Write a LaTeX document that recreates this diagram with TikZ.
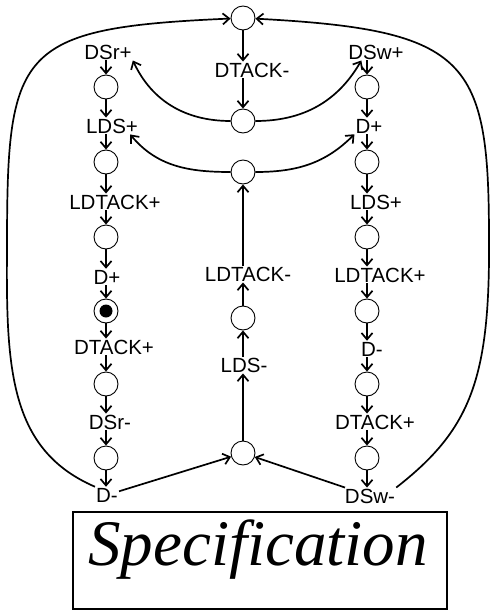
\documentclass[tikz,border=0pt]{standalone}
\usepackage{fontspec}
\setmainfont{Liberation Sans}
\newfontfamily\specfont[Ligatures=CommonOff]{Liberation Serif}
\usetikzlibrary{arrows.meta}

\begin{document}
\begin{tikzpicture}[x=1pt,y=-1pt,place/.style={circle,draw,line width=0.9pt,minimum size=24pt,inner sep=0pt},marked/.style={place,path picture={\fill (path picture bounding box.center) circle (6.5pt);}},trans/.style={inner sep=1pt,font=\fontsize{20.5}{22}\selectfont},arc/.style={-{Straight Barb[length=6.5pt,width=11pt]},line width=1.7pt},frame/.style={draw,line width=2.6pt,minimum width=374pt,minimum height=97pt},title/.style={inner sep=0pt,font=\specfont\itshape\fontsize{65}{70}\selectfont}]
\useasboundingbox (0,0) rectangle (491,613);
\node[place] (top) at (243,18) {};
\node[trans] (dtackM) at (252,70) {DTACK-};
\node[place] (m1) at (243,121) {};
\node[place] (m2) at (243,172) {};
\node[trans] (ldtackM) at (248,274) {LDTACK-};
\node[place] (m3) at (243,318) {};
\node[trans] (ldsM) at (244,365) {LDS-};
\node[place] (m4) at (243,453) {};
\node[trans] (dsrP) at (108,52) {DSr+};
\node[place] (l1) at (106,87) {};
\node[trans] (ldsP) at (112,126) {LDS+};
\node[place] (l2) at (106,162) {};
\node[trans] (ldtackP) at (115,202) {LDTACK+};
\node[place] (l3) at (106,237) {};
\node[trans] (dP) at (107,277) {D+};
\node[marked] (l4) at (106,311) {};
\node[trans] (dtackP) at (114,347) {DTACK+};
\node[place] (l5) at (106,384) {};
\node[trans] (dsrM) at (110,422) {DSr-};
\node[place] (l6) at (106,458) {};
\node[trans] (dM) at (107,495) {D-};
\node[trans] (dswP) at (376,52) {DSw+};
\node[place] (r1) at (367,87) {};
\node[trans] (dP2) at (369,126) {D+};
\node[place] (r2) at (367,162) {};
\node[trans] (ldsP2) at (376,202) {LDS+};
\node[place] (r3) at (367,237) {};
\node[trans] (ldtackP2) at (380,275) {LDTACK+};
\node[place] (r4) at (367,311) {};
\node[trans] (dM2) at (372,349) {D-};
\node[place] (r5) at (367,384) {};
\node[trans] (dtackP2) at (375,422) {DTACK+};
\node[place] (r6) at (367,458) {};
\node[trans] (dswM) at (370,496) {DSw-};
\node[frame] (box) at (260,560.5) {};
\node[title,anchor=base] (spec) at (258,565) {Specification};
\draw[arc] (top) -- (top |- dtackM.north);
\draw[arc] (m1 |- dtackM.south) -- (m1);
\draw[arc] (m2 |- ldtackM.north) -- (m2);
\draw[arc] (m3) -- (m3 |- ldtackM.south);
\draw[arc] (m3 |- ldsM.north) -- (m3);
\draw[arc] (m4) -- (m4 |- ldsM.south);
\draw[arc] (l1 |- dsrP.south) -- (l1);
\draw[arc] (l1) -- (l1 |- ldsP.north);
\draw[arc] (l2 |- ldsP.south) -- (l2);
\draw[arc] (l2) -- (l2 |- ldtackP.north);
\draw[arc] (l3 |- ldtackP.south) -- (l3);
\draw[arc] (l3) -- (l3 |- dP.north);
\draw[arc] (l4 |- dP.south) -- (l4);
\draw[arc] (l4) -- (l4 |- dtackP.north);
\draw[arc] (l5 |- dtackP.south) -- (l5);
\draw[arc] (l5) -- (l5 |- dsrM.north);
\draw[arc] (l6 |- dsrM.south) -- (l6);
\draw[arc] (l6) -- (l6 |- dM.north);
\draw[arc] (r1 |- dswP.south) -- (r1);
\draw[arc] (r1) -- (r1 |- dP2.north);
\draw[arc] (r2 |- dP2.south) -- (r2);
\draw[arc] (r2) -- (r2 |- ldsP2.north);
\draw[arc] (r3 |- ldsP2.south) -- (r3);
\draw[arc] (r3) -- (r3 |- ldtackP2.north);
\draw[arc] (r4 |- ldtackP2.south) -- (r4);
\draw[arc] (r4) -- (r4 |- dM2.north);
\draw[arc] (r5 |- dM2.south) -- (r5);
\draw[arc] (r5) -- (r5 |- dtackP2.north);
\draw[arc] (r6 |- dtackP2.south) -- (r6);
\draw[arc] (r6) -- (r6 |- dswM.north);
\draw[arc] (m1) to[out=180,in=-65] (dsrP.south east);
\draw[arc] (m1) to[out=0,in=-120] (dswP.-150);
\draw[arc] (m2) to[out=180,in=-50] (ldsP.-25);
\draw[arc] (m2) to[out=0,in=-135] (dP2.south west);
\draw[arc] (dM) -- (m4);
\draw[arc] (dswM) -- (m4);
\draw[arc] (dM.north west) .. controls (10,450) and (6,370) .. (7,250) .. controls (7,50) and (15,28) .. (top);
\draw[arc] (dswM.north east) .. controls (470,430) and (490,380) .. (489,240) .. controls (489,60) and (470,30) .. (top);
\end{tikzpicture}
\end{document}
